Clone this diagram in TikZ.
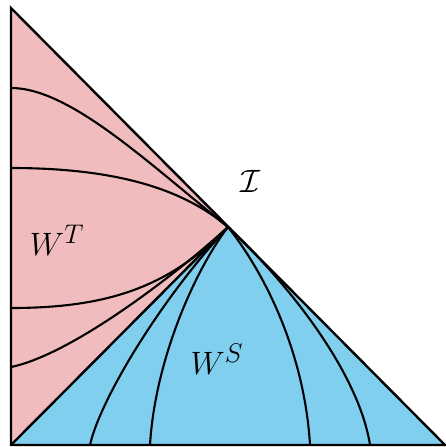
\documentclass[tikz,border=0pt]{standalone}
\usepackage{graphicx}
\usepackage{amsmath}
\definecolor{pinkT}{RGB}{240,188,189}
\definecolor{blueS}{RGB}{128,207,238}
\tikzset{
  bord/.style={line width=2.4pt, line join=miter},
  curv/.style={line width=2.1pt},
  lab/.style={inner sep=0pt, font=\fontsize{24.88}{30}\selectfont}
}
\newcommand{\biglab}[1]{\scalebox{1.3}{#1}}
\begin{document}
\begin{tikzpicture}[x=1pt,y=-1pt]
\useasboundingbox (0,0) rectangle (445,447);
\coordinate (TL) at (11,8);
\coordinate (BL) at (11,445);
\coordinate (BR) at (445,445);
\coordinate (A) at (228,227);
\fill[pinkT] (TL) -- (A) -- (BL) -- cycle;
\fill[blueS] (BL) -- (A) -- (BR) -- cycle;
% pink curves
\draw[curv] (11,88) .. controls (70,88) and (148,163) .. (A);
\draw[curv] (11,168) .. controls (130,168) and (190,195) .. (A);
\draw[curv] (11,308) .. controls (110,308) and (170,286) .. (A);
\draw[curv] (11,367) .. controls (70,355) and (172,278) .. (A);
% blue curves
\draw[curv] (90,445) .. controls (100,400) and (160,300) .. (A);
\draw[curv] (150,445) .. controls (155,360) and (195,270) .. (A);
\draw[curv] (310,445) .. controls (305,360) and (270,280) .. (A);
\draw[curv] (370,445) .. controls (360,380) and (300,295) .. (A);
% borders
\draw[bord] (BL) -- (A);
\draw[bord] (TL) -- (BR) -- (BL) -- cycle;
% labels
\node[lab] (WT) at (57,240) {\biglab{$W^T$}};
\node[lab] (WS) at (217,359) {\biglab{$W^S$}};
\node[lab] (I) at (250,181) {\biglab{$\mathcal{I}$}};
\end{tikzpicture}
\end{document}
